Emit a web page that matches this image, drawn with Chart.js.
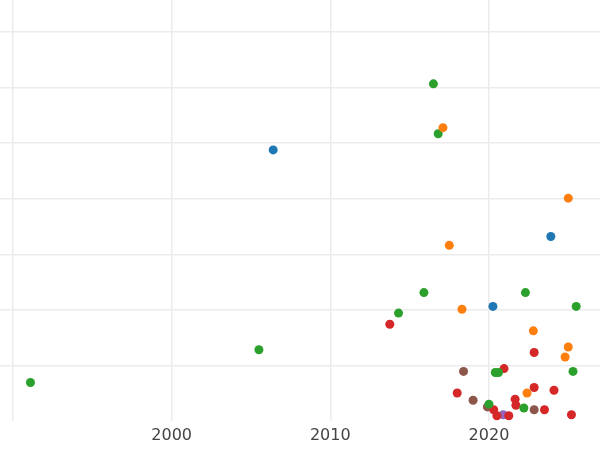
<!DOCTYPE html>
<html>
<head>
<script src="https://cdn.jsdelivr.net/npm/chart.js@4/dist/chart.umd.min.js"></script>
<style>
  body { margin: 0; background: #fff; }
  #wrap { width: 600px; height: 450px; }
</style>
</head>
<body>
<div id="wrap"><canvas id="myChart"></canvas></div>
<script>
// points per colour group: [year, value]
const blueYears   = [2006.4, 2023.9, 2020.25];
const blueValues  = [4.88, 3.32, 2.06];
const orangeYears  = [2017.1, 2025.0, 2017.5, 2018.3, 2022.8, 2025.0, 2024.8, 2022.4];
const orangeValues = [5.28, 4.01, 3.16, 2.01, 1.62, 1.33, 1.15, 0.50];
const greenYears  = [1991.1, 2005.5, 2014.3, 2015.9, 2016.5, 2016.8, 2022.3, 2025.5, 2025.3, 2020.4, 2020.6, 2020.0, 2022.2];
const greenValues = [0.69, 1.28, 1.94, 2.31, 6.07, 5.17, 2.31, 2.06, 0.89, 0.87, 0.87, 0.30, 0.23];
const redYears  = [2013.75, 2022.85, 2020.95, 2018.0, 2022.85, 2024.1, 2020.3, 2021.65, 2021.7, 2023.5, 2020.5, 2021.25, 2025.2];
const redValues = [1.74, 1.23, 0.94, 0.50, 0.60, 0.55, 0.20, 0.39, 0.28, 0.20, 0.09, 0.09, 0.11];
const purpleYears  = [2020.9];
const purpleValues = [0.11];
const brownYears  = [2018.4, 2019.0, 2019.9, 2022.85];
const brownValues = [0.89, 0.37, 0.25, 0.20];

function pts(xs, ys) {
    return xs.map((x, i) => ({ x: x, y: ys[i] }));
}

const groups = [
    [blueYears, blueValues, '#1f77b4'],
    [orangeYears, orangeValues, '#ff7f0e'],
    [greenYears, greenValues, '#2ca02c'],
    [redYears, redValues, '#d62728'],
    [purpleYears, purpleValues, '#9467bd'],
    [brownYears, brownValues, '#8c564b']
];

const chart = new Chart(document.getElementById('myChart'), {
    type: 'scatter',
    data: {
        datasets: groups.map(g => ({
            data: pts(g[0], g[1]),
            backgroundColor: g[2],
            borderWidth: 0,
            pointRadius: 4.5
        }))
    },
    options: {
        responsive: true,
        maintainAspectRatio: false,
        animation: false,
        layout: { padding: 0, autoPadding: false },
        plugins: { legend: { display: false }, tooltip: { enabled: false } },
        scales: {
            x: {
                type: 'linear',
                min: 1989.18,
                max: 2027,
                afterBuildTicks: axis => {
                    axis.ticks = [1990, 2000, 2010, 2020].map(v => ({ value: v }));
                },
                ticks: {
                    color: '#444',
                    padding: 5,
                    font: { family: 'DejaVu Sans', size: 16 },
                    callback: v => v === 1990 ? '' : String(v)
                },
                grid: { color: '#ebebeb', lineWidth: 1.5, drawTicks: false },
                border: { display: false }
            },
            y: {
                min: 0,
                max: 7.58,
                afterBuildTicks: axis => {
                    axis.ticks = [1, 2, 3, 4, 5, 6, 7].map(v => ({ value: v }));
                },
                ticks: { display: false },
                grid: { color: '#ebebeb', lineWidth: 1.5, drawTicks: false },
                border: { display: false }
            }
        }
    }
});
</script>
</body>
</html>
